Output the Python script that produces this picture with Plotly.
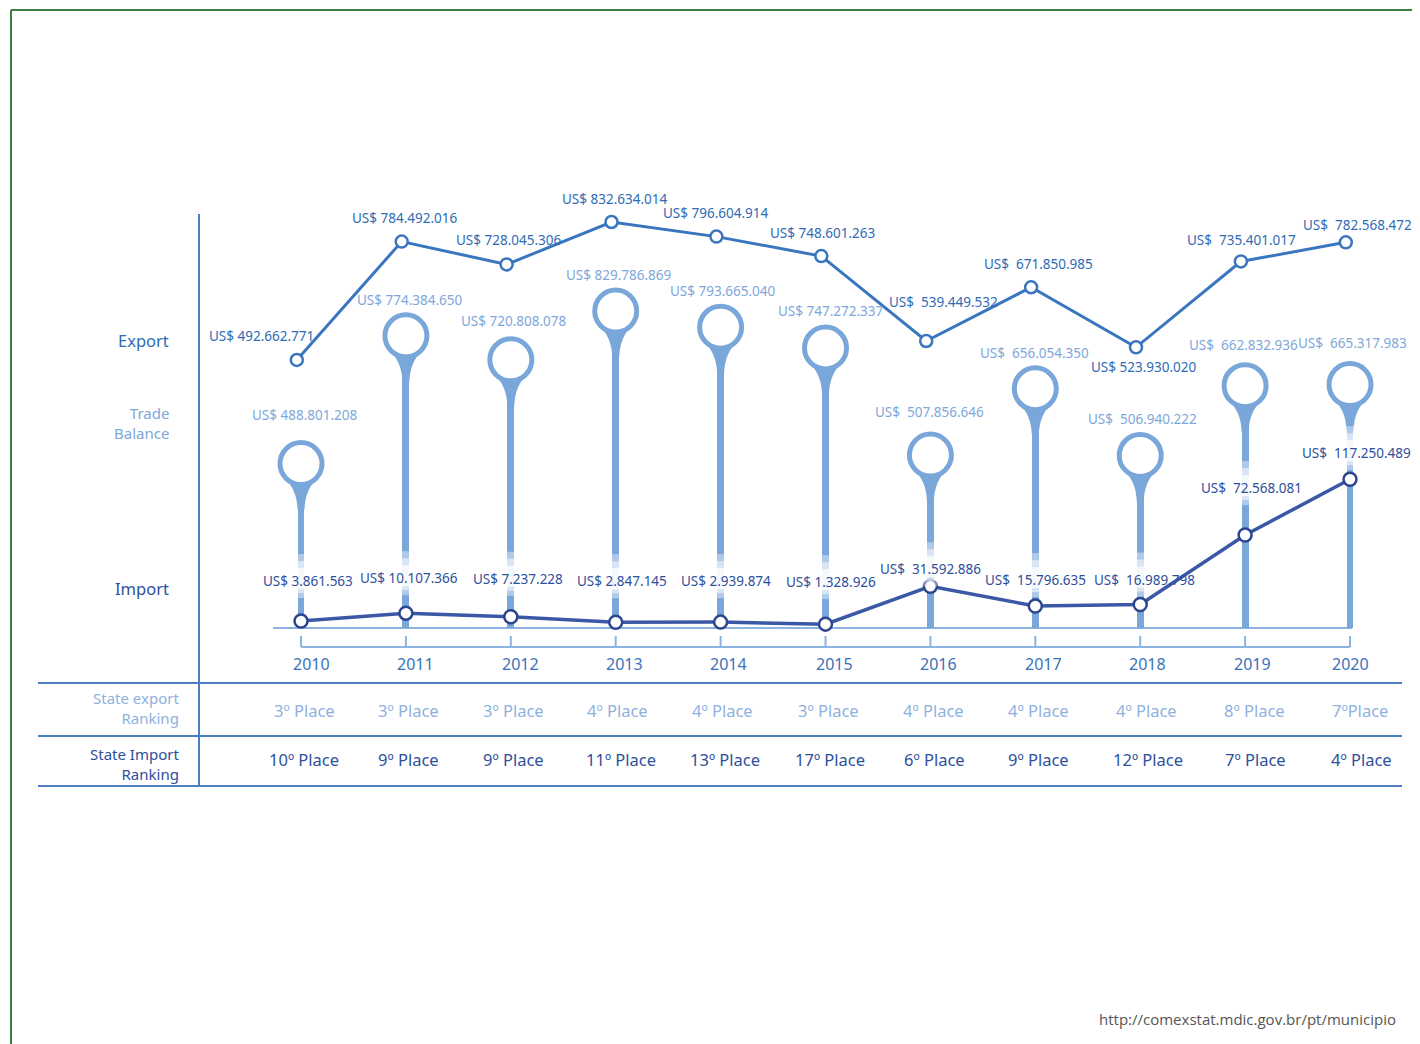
import plotly.graph_objects as go

# ---------------- data ----------------
years = [2010, 2011, 2012, 2013, 2014, 2015, 2016, 2017, 2018, 2019, 2020]
export_usd = [492662771, 784492016, 728045306, 832634014, 796604914, 748601263,
              539449532, 671850985, 523930020, 735401017, 782568472]
balance_usd = [488801208, 774384650, 720808078, 829786869, 793665040, 747272337,
               507856646, 656054350, 506940222, 662832936, 665317983]
import_usd = [3861563, 10107366, 7237228, 2847145, 2939874, 1328926,
              31592886, 15796635, 16989798, 72568081, 117250489]
export_rank = ["3º Place", "3º Place", "3º Place", "4º Place", "4º Place", "3º Place",
               "4º Place", "4º Place", "4º Place", "8º Place", "7ºPlace"]
import_rank = ["10º Place", "9º Place", "9º Place", "11º Place", "13º Place", "17º Place",
               "6º Place", "9º Place", "12º Place", "7º Place", "4º Place"]
source_text = "http://comexstat.mdic.gov.br/pt/municipio"

# ---------------- style / layout helpers ----------------
OFF = 8                      # page body margin of the browser
W, H = 1420 - OFF, 1044 - OFF
def px(x): return (x - OFF) / W
def py(y): return 1 - (y - OFF) / H

EXP_LINE = "#3a76bf"
EXP_TXT = "#2f6cb5"
PIN = "#7aa7da"
BAL_TXT = "#7ea7da"
IMP_LINE = "#3a58a6"
IMP_TXT = "#2e4f9c"
IMP_MK = "#2b468f"
TABLE = "#4a7fc1"
BASE = "#8db3e0"
YEAR_TXT = "#3b73b9"
RANK1 = "#8fb1de"

# axis ranges (each series drawn on its own overlaid scale, as in the infographic)
PX_PER_YEAR = 104.9
x_left_px, x_right_px = 273, 1412
x_range = [2009.733, 2009.733 + (x_right_px - x_left_px) / PX_PER_YEAR]
exp_range = [-167.6e6, 936.1e6]
bal_range = [121.2e6, 1122.8e6]
imp_range = [-1.76e6, 356.6e6]

# label offsets in pixels (xshift, yshift)
exp_dx = [-35, 3, 2, 3, 0, 1, 17, 7, 8, 1, 12]
exp_dy = [24, 24, 24, 23, 24, 23, 39, 23, -20, 21, 17]
bal_dx = [4, 4, 3, 3, 2, 5, -1, -1, 2, -2, 2]
bal_dy = [49, 36, 39, 36, 36, 37, 43, 36, 36, 41, 42]
imp_dx = [7, 3, 7, 6, 5, 5, 0, 0, 4, 6, 6]
imp_dy = [40, 35, 38, 41, 41, 42, 17, 26, 25, 47, 26]
year_dx = [10, 10, 10, 9, 8, 9, 8, 8, 7, 7, 0]
rank1_dx = [3, 3, 3, 2, 2, 3, 3, 3, 6, 9, 10]
rank2_dx = [3, 3, 3, 5, 4, 4, 4, 3, 8, 10, 11]
exp_xoff = -0.04

def fmt(v, wide):
    sp = "\u00a0\u00a0" if wide else " "
    return "US$" + sp + f"{v:,}".replace(",", ".")

fig = go.Figure()

# stems of the trade-balance pins
fig.add_trace(go.Bar(
    x=years, y=[b - bal_range[0] for b in balance_usd], base=bal_range[0],
    width=0.066, marker=dict(color=PIN, line=dict(width=0)), cliponaxis=False,
    xaxis="x", yaxis="y", hoverinfo="skip"))
# pin heads
fig.add_trace(go.Scatter(
    x=years, y=balance_usd, mode="markers", cliponaxis=False,
    marker=dict(size=42, color="white", line=dict(width=5, color=PIN)),
    xaxis="x", yaxis="y", hoverinfo="skip"))
# export line
fig.add_trace(go.Scatter(
    x=[y + exp_xoff for y in years], y=export_usd, mode="lines+markers", cliponaxis=False,
    line=dict(color=EXP_LINE, width=3),
    marker=dict(size=12, color="white", line=dict(width=2.5, color=EXP_LINE)),
    xaxis="x", yaxis="y2", hoverinfo="skip"))
# import line
fig.add_trace(go.Scatter(
    x=years, y=import_usd, mode="lines+markers", cliponaxis=False,
    line=dict(color=IMP_LINE, width=3.5),
    marker=dict(size=13, color="white", line=dict(width=2.5, color=IMP_MK)),
    xaxis="x", yaxis="y3", hoverinfo="skip"))

shapes = []
# baseline
shapes.append(dict(type="line", xref="paper", yref="paper", x0=px(273), x1=px(1352),
                   y0=py(628), y1=py(628), line=dict(color=BASE, width=2), layer="below"))
# pin necks (teardrop joint between head and stem)
for yr, b in zip(years, balance_usd):
    shapes.append(dict(type="path", xref="x", yref="y", xsizemode="pixel", ysizemode="pixel",
                       xanchor=yr, yanchor=b,
                       path="M -17,-14 Q -4,-26 -3.5,-46 L 3.5,-46 Q 4,-26 17,-14 Z",
                       fillcolor=PIN, line=dict(width=0), layer="below"))
# white fade on stems behind the import labels
for yr, v, dy in zip(years, import_usd, imp_dy):
    for (a, b, op) in [(-17, 27, 0.4), (-12, 20, 0.5), (-8, 13, 0.75)]:
        shapes.append(dict(type="rect", xref="x", yref="y3", xsizemode="pixel", ysizemode="pixel",
                           xanchor=yr, yanchor=v, x0=-7, x1=7, y0=dy + a, y1=dy + b,
                           fillcolor="white", opacity=op, line=dict(width=0), layer="above"))
# year bracket below the baseline
shapes.append(dict(type="line", xref="x", yref="paper", x0=years[0], x1=years[-1],
                   y0=py(647), y1=py(647), line=dict(color=BASE, width=2)))
for yr in years:
    shapes.append(dict(type="line", xref="x", yref="paper", x0=yr, x1=yr,
                       y0=py(647), y1=py(636), line=dict(color=BASE, width=2)))
# left vertical rule
shapes.append(dict(type="line", xref="paper", yref="paper", x0=px(199), x1=px(199),
                   y0=py(214), y1=py(786), line=dict(color=TABLE, width=2)))
# table rules
for yy in [683, 736, 786]:
    shapes.append(dict(type="line", xref="paper", yref="paper", x0=px(38), x1=px(1402),
                       y0=py(yy), y1=py(yy), line=dict(color=TABLE, width=2)))
# outer frame (top and left edges)
shapes.append(dict(type="line", xref="paper", yref="paper", x0=px(11), x1=1,
                   y0=py(10), y1=py(10), line=dict(color="#3d7d3d", width=2)))
shapes.append(dict(type="line", xref="paper", yref="paper", x0=px(11), x1=px(11),
                   y0=0, y1=py(10), line=dict(color="#3d7d3d", width=2)))

ann = []
FONT = "Noto Sans"
for i, yr in enumerate(years):
    ann.append(dict(xref="x", yref="y2", x=yr + exp_xoff, y=export_usd[i],
                    xshift=exp_dx[i], yshift=exp_dy[i],
                    text=fmt(export_usd[i], yr >= 2016 and yr != 2018),
                    showarrow=False, font=dict(size=13.5, color=EXP_TXT, family=FONT)))
    ann.append(dict(xref="x", yref="y", x=yr, y=balance_usd[i],
                    xshift=bal_dx[i], yshift=bal_dy[i],
                    text=fmt(balance_usd[i], yr >= 2016),
                    showarrow=False, font=dict(size=13.5, color=BAL_TXT, family=FONT)))
    ann.append(dict(xref="x", yref="y3", x=yr, y=import_usd[i],
                    xshift=imp_dx[i], yshift=imp_dy[i],
                    text=fmt(import_usd[i], yr >= 2016),
                    showarrow=False, font=dict(size=13.5, color=IMP_TXT, family=FONT)))
    ann.append(dict(xref="x", yref="paper", x=yr, y=py(664), xshift=year_dx[i],
                    text=str(yr), showarrow=False, yanchor="middle",
                    font=dict(size=16, color=YEAR_TXT, family=FONT)))
    ann.append(dict(xref="x", yref="paper", x=yr, y=py(710), xshift=rank1_dx[i],
                    text=export_rank[i], showarrow=False, yanchor="middle",
                    font=dict(size=16.5, color=RANK1, family=FONT)))
    ann.append(dict(xref="x", yref="paper", x=yr, y=py(759), xshift=rank2_dx[i],
                    text=import_rank[i], showarrow=False, yanchor="middle",
                    font=dict(size=16.5, color=IMP_TXT, family=FONT)))

def side(text, x, y, color, size=16):
    return dict(xref="paper", yref="paper", x=px(x), y=py(y), text=text, showarrow=False,
                xanchor="right", yanchor="middle", align="right",
                font=dict(size=size, color=color, family=FONT))

ann += [
    side("Export", 171, 341, EXP_TXT, 16.5),
    side("Trade<br>Balance", 171, 423, BAL_TXT, 15),
    side("Import", 171, 588, IMP_TXT, 16.5),
    side("State export<br>Ranking", 181, 708, RANK1, 15),
    side("State Import<br>Ranking", 181, 764, IMP_TXT, 15),
    dict(xref="paper", yref="paper", x=px(1398), y=py(1019), text=source_text,
         showarrow=False, xanchor="right", yanchor="middle",
         font=dict(size=15, color="#555555", family="Open Sans")),
]

ydom = [py(628), py(180)]
fig.update_layout(
    width=W, height=H, margin=dict(l=0, r=0, t=0, b=0),
    paper_bgcolor="white", plot_bgcolor="rgba(0,0,0,0)", showlegend=False,
    font=dict(family=FONT),
    bargap=0,
    xaxis=dict(domain=[px(x_left_px), px(x_right_px)], range=x_range,
               showline=False, showgrid=False,
               zeroline=False, showticklabels=False, ticks="", fixedrange=True),
    yaxis=dict(domain=ydom, range=bal_range, visible=False, fixedrange=True),
    yaxis2=dict(overlaying="y", range=exp_range, visible=False, fixedrange=True),
    yaxis3=dict(overlaying="y", range=imp_range, visible=False, fixedrange=True),
    shapes=shapes, annotations=ann,
)

fig.write_html("out.html")
